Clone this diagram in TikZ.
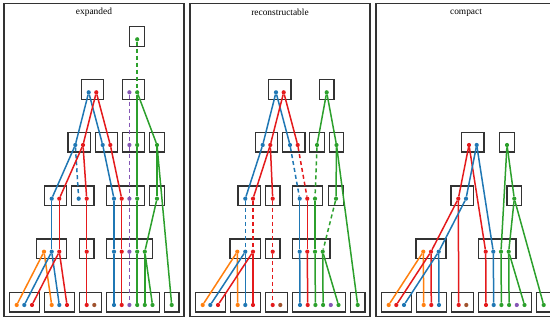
\documentclass[tikz,border=0pt]{standalone}
\usepackage{fontspec}
\setmainfont{Liberation Serif}
\definecolor{cb}{HTML}{1F77B4}
\definecolor{cr}{HTML}{E41A1C}
\definecolor{cg}{HTML}{2CA02C}
\definecolor{co}{HTML}{FF7F0E}
\definecolor{cp}{HTML}{8557B5}
\definecolor{cn}{HTML}{A0522D}
\definecolor{edge}{HTML}{333333}
\tikzset{
  dotst/.style={circle,inner sep=0pt,minimum size=4.2pt,draw=none},
  boxst/.style={rectangle,draw=edge,line width=1.1pt,inner sep=0pt,minimum height=19.7pt},
  framest/.style={rectangle,draw=edge,line width=1.2pt,inner sep=0pt,minimum width=180pt,minimum height=313.2pt},
  titlest/.style={font=\fontsize{9.4}{11}\selectfont,inner sep=0pt},
  lk/.style={line width=1.5pt},
  dsh/.style={line width=1.5pt,dash pattern=on 4pt off 3pt}
}
\newcommand\dotat[4]{\node[dotst,fill=#4] (#1) at (#2,#3) {};}
\newcommand\boxat[4]{\node[boxst,minimum width={#3-#2+14.6}] (#1) at ({(#2+#3)/2},{#4-2.85}) {};}
\begin{document}
\begin{tikzpicture}[x=1pt,y=-1pt]
\useasboundingbox (0,0) rectangle (550,320);
\clip (0,0) rectangle (550,320);
\node[framest] (f1) at (94,160.1) {};
\node[framest] (f2) at (280,160.1) {};
\node[framest] (f3) at (466,160.1) {};
\node[titlest] (t1) at (94,12.5) {expanded};
\node[titlest] (t2) at (280,12.5) {reconstructable};
\node[titlest] (t3) at (466,12.5) {compact};

% ---------------- panel 1 ----------------
\boxat{a6A}{137.2}{137.2}{39.3}
\boxat{a5A}{88.7}{96.3}{92.3}
\boxat{a5B}{129.4}{137.2}{92.3}
\boxat{a4A}{75.3}{83}{145}
\boxat{a4B}{102.7}{110.3}{145}
\boxat{a4C}{129.4}{137.2}{145}
\boxat{a4D}{157}{157}{145}
\boxat{a3A}{51.7}{59.3}{198.7}
\boxat{a3B}{78.7}{86.7}{198.7}
\boxat{a3C}{114}{137.2}{198.7}
\boxat{a3D}{157}{157}{198.7}
\boxat{a2A}{44}{59.3}{251.7}
\boxat{a2B}{86.7}{86.7}{251.7}
\boxat{a2C}{114}{144.8}{251.7}
\boxat{a1A}{16.7}{32}{305}
\boxat{a1B}{51.7}{67}{305}
\boxat{a1C}{86.7}{94.3}{305}
\boxat{a1D}{114}{152.5}{305}
\boxat{a1E}{171.7}{171.7}{305}

\dotat{a6g}{137.2}{39.3}{cg}
\dotat{a5b}{88.7}{92.3}{cb}
\dotat{a5r}{96.3}{92.3}{cr}
\dotat{a5p}{129.4}{92.3}{cp}
\dotat{a5g}{137.2}{92.3}{cg}
\dotat{a4b1}{75.3}{145}{cb}
\dotat{a4r1}{83}{145}{cr}
\dotat{a4b2}{102.7}{145}{cb}
\dotat{a4r2}{110.3}{145}{cr}
\dotat{a4p}{129.4}{145}{cp}
\dotat{a4g}{137.2}{145}{cg}
\dotat{a4g2}{157}{145}{cg}
\dotat{a3b1}{51.7}{198.7}{cb}
\dotat{a3r1}{59.3}{198.7}{cr}
\dotat{a3b2}{78.7}{198.7}{cb}
\dotat{a3r2}{86.7}{198.7}{cr}
\dotat{a3b3}{114}{198.7}{cb}
\dotat{a3r3}{121.7}{198.7}{cr}
\dotat{a3p}{129.4}{198.7}{cp}
\dotat{a3g}{137.2}{198.7}{cg}
\dotat{a3g2}{157}{198.7}{cg}
\dotat{a2o}{44}{251.7}{co}
\dotat{a2b}{51.7}{251.7}{cb}
\dotat{a2r}{59.3}{251.7}{cr}
\dotat{a2r2}{86.7}{251.7}{cr}
\dotat{a2b3}{114}{251.7}{cb}
\dotat{a2r3}{121.7}{251.7}{cr}
\dotat{a2p}{129.4}{251.7}{cp}
\dotat{a2g}{137.2}{251.7}{cg}
\dotat{a2g2}{144.8}{251.7}{cg}
\dotat{a1o1}{16.7}{305}{co}
\dotat{a1b1}{24.3}{305}{cb}
\dotat{a1r1}{32}{305}{cr}
\dotat{a1o2}{51.7}{305}{co}
\dotat{a1b2}{59.3}{305}{cb}
\dotat{a1r2}{67}{305}{cr}
\dotat{a1r3}{86.7}{305}{cr}
\dotat{a1n}{94.3}{305}{cn}
\dotat{a1b4}{114}{305}{cb}
\dotat{a1r4}{121.7}{305}{cr}
\dotat{a1p}{129.4}{305}{cp}
\dotat{a1g4}{137.2}{305}{cg}
\dotat{a1g5}{144.8}{305}{cg}
\dotat{a1g6}{152.5}{305}{cg}
\dotat{a1g7}{171.7}{305}{cg}

\draw[dsh,cg] (a6g) -- (a5g);
\draw[lk,cb] (a5b) -- (a4b1); \draw[lk,cb] (a5b) -- (a4b2);
\draw[lk,cr] (a5r) -- (a4r1); \draw[lk,cr] (a5r) -- (a4r2);
\draw[dsh,cp] (a5p) -- (a4p) -- (a3p) -- (a2p) -- (a1p);
\draw[lk,cg] (a5g) -- (a4g); \draw[lk,cg] (a5g) -- (a4g2);
\draw[lk,cb] (a4b1) -- (a3b1); \draw[dsh,cb] (a4b1) -- (a3b2);
\draw[lk,cr] (a4r1) -- (a3r1); \draw[lk,cr] (a4r1) -- (a3r2);
\draw[lk,cb] (a4b2) -- (a3b3); \draw[lk,cr] (a4r2) -- (a3r3);
\draw[lk,cg] (a4g) -- (a3g); \draw[lk,cg] (a4g2) -- (a3g2); \draw[lk,cg] (a4g2) -- (a1g7);
\draw[lk,cb] (a3b1) -- (a2b); \draw[lk,cr] (a3r1) -- (a2r); \draw[lk,cr] (a3r2) -- (a2r2);
\draw[lk,cb] (a3b3) -- (a2b3); \draw[lk,cr] (a3r3) -- (a2r3); \draw[lk,cg] (a3g) -- (a2g);
\draw[lk,cg] (a3g2) -- (a2g2);
\draw[lk,co] (a2o) -- (a1o1); \draw[lk,co] (a2o) -- (a1o2);
\draw[lk,cb] (a2b) -- (a1b1); \draw[lk,cb] (a2b) -- (a1b2);
\draw[lk,cr] (a2r) -- (a1r1); \draw[lk,cr] (a2r) -- (a1r2);
\draw[lk,cr] (a2r2) -- (a1r3);
\draw[lk,cb] (a2b3) -- (a1b4); \draw[lk,cr] (a2r3) -- (a1r4); \draw[lk,cg] (a2g) -- (a1g4);
\draw[lk,cg] (a2g2) -- (a1g5); \draw[lk,cg] (a2g2) -- (a1g6);

% ---------------- panel 2 ----------------
\begin{scope}[xshift=186pt]
\boxat{b5A}{90}{97.7}{92.3}
\boxat{b5B}{140.7}{140.7}{92.3}
\boxat{b4A}{76.7}{84.3}{145}
\boxat{b4B}{104}{111.7}{145}
\boxat{b4C}{131}{131}{145}
\boxat{b4D}{150.5}{150.5}{145}
\boxat{b3A}{59.3}{67}{198.7}
\boxat{b3B}{86.7}{86.7}{198.7}
\boxat{b3C}{113.7}{129}{198.7}
\boxat{b3D}{150}{150}{198.7}
\boxat{b2A}{51.3}{67}{251.7}
\boxat{b2B}{86.7}{86.7}{251.7}
\boxat{b2C}{113.7}{136.7}{251.7}
\boxat{b1A}{16.7}{32}{305}
\boxat{b1B}{51.7}{67}{305}
\boxat{b1C}{86.7}{94.3}{305}
\boxat{b1D}{114}{152.5}{305}
\boxat{b1E}{171.7}{171.7}{305}

\dotat{b5b}{90}{92.3}{cb}
\dotat{b5r}{97.7}{92.3}{cr}
\dotat{b5g}{140.7}{92.3}{cg}
\dotat{b4b1}{76.7}{145}{cb}
\dotat{b4r1}{84.3}{145}{cr}
\dotat{b4b2}{104}{145}{cb}
\dotat{b4r2}{111.7}{145}{cr}
\dotat{b4g1}{131}{145}{cg}
\dotat{b4g2}{150.5}{145}{cg}
\dotat{b3b1}{59.3}{198.7}{cb}
\dotat{b3r1}{67}{198.7}{cr}
\dotat{b3r2}{86.7}{198.7}{cr}
\dotat{b3b3}{113.7}{198.7}{cb}
\dotat{b3r3}{121.3}{198.7}{cr}
\dotat{b3g3}{129}{198.7}{cg}
\dotat{b3g4}{150}{198.7}{cg}
\dotat{b2o}{51.3}{251.7}{co}
\dotat{b2b}{59.3}{251.7}{cb}
\dotat{b2r}{67}{251.7}{cr}
\dotat{b2r2}{86.7}{251.7}{cr}
\dotat{b2b3}{113.7}{251.7}{cb}
\dotat{b2r3}{121.3}{251.7}{cr}
\dotat{b2g3}{129}{251.7}{cg}
\dotat{b2g4}{136.7}{251.7}{cg}
\dotat{b1o1}{16.7}{305}{co}
\dotat{b1b1}{24.3}{305}{cb}
\dotat{b1r1}{32}{305}{cr}
\dotat{b1o2}{51.7}{305}{co}
\dotat{b1b2}{59.3}{305}{cb}
\dotat{b1r2}{67}{305}{cr}
\dotat{b1r3}{86.7}{305}{cr}
\dotat{b1n}{94.3}{305}{cn}
\dotat{b1b4}{114}{305}{cb}
\dotat{b1r4}{121.7}{305}{cr}
\dotat{b1g4}{129.4}{305}{cg}
\dotat{b1g5}{137.1}{305}{cg}
\dotat{b1p}{144.8}{305}{cp}
\dotat{b1g6}{152.5}{305}{cg}
\dotat{b1g7}{171.7}{305}{cg}

\draw[lk,cb] (b5b) -- (b4b1); \draw[lk,cb] (b5b) -- (b4b2);
\draw[lk,cr] (b5r) -- (b4r1); \draw[lk,cr] (b5r) -- (b4r2);
\draw[lk,cg] (b5g) -- (b4g1); \draw[lk,cg] (b5g) -- (b4g2);
\draw[lk,cb] (b4b1) -- (b3b1);
\draw[lk,cr] (b4r1) -- (b3r1); \draw[lk,cr] (b4r1) -- (b3r2);
\draw[dsh,cb] (b4b2) -- (b3b3); \draw[dsh,cr] (b4r2) -- (b3r3); \draw[dsh,cg] (b4g1) -- (b3g3);
\draw[lk,cg] (b4g2) -- (b3g4); \draw[lk,cg] (b4g2) -- (b1g7);
\draw[dsh,cb] (b3b1) -- (b2b); \draw[dsh,cr] (b3r1) -- (b2r); \draw[dsh,cr] (b3r2) -- (b2r2);
\draw[lk,cb] (b3b3) -- (b2b3); \draw[lk,cr] (b3r3) -- (b2r3); \draw[lk,cg] (b3g3) -- (b2g3);
\draw[dsh,cg] (b3g4) -- (b2g4);
\draw[lk,co] (b2o) -- (b1o1); \draw[lk,co] (b2o) -- (b1o2);
\draw[lk,cb] (b2b) -- (b1b1); \draw[lk,cb] (b2b) -- (b1b2);
\draw[lk,cr] (b2r) -- (b1r1); \draw[lk,cr] (b2r) -- (b1r2);
\draw[dsh,cr] (b2r2) -- (b1r3);
\draw[lk,cb] (b2b3) -- (b1b4); \draw[lk,cr] (b2r3) -- (b1r4); \draw[lk,cg] (b2g3) -- (b1g4);
\draw[lk,cg] (b2g4) -- (b1g5); \draw[lk,cg] (b2g4) -- (b1g6);
\end{scope}

% ---------------- panel 3 ----------------
\begin{scope}[xshift=372pt]
\boxat{c4A}{97}{104.7}{145}
\boxat{c4B}{135}{135}{145}
\boxat{c3A}{86.3}{94}{198.7}
\boxat{c3B}{142.3}{142.3}{198.7}
\boxat{c2A}{51.3}{66.7}{251.7}
\boxat{c2B}{113.7}{136.7}{251.7}
\boxat{c1A}{16.7}{32}{305}
\boxat{c1B}{51.7}{67}{305}
\boxat{c1C}{86.7}{94.3}{305}
\boxat{c1D}{114}{152.5}{305}
\boxat{c1E}{171.7}{171.7}{305}

\dotat{c4r}{97}{145}{cr}
\dotat{c4b}{104.7}{145}{cb}
\dotat{c4g}{135}{145}{cg}
\dotat{c3r}{86.3}{198.7}{cr}
\dotat{c3b}{94}{198.7}{cb}
\dotat{c3g}{142.3}{198.7}{cg}
\dotat{c2o}{51.3}{251.7}{co}
\dotat{c2r}{59}{251.7}{cr}
\dotat{c2b}{66.7}{251.7}{cb}
\dotat{c2r2}{113.7}{251.7}{cr}
\dotat{c2b2}{121.3}{251.7}{cb}
\dotat{c2g1}{129}{251.7}{cg}
\dotat{c2g2}{136.7}{251.7}{cg}
\dotat{c1o1}{16.7}{305}{co}
\dotat{c1r1}{24.3}{305}{cr}
\dotat{c1b1}{32}{305}{cb}
\dotat{c1o2}{51.7}{305}{co}
\dotat{c1r2}{59.3}{305}{cr}
\dotat{c1b2}{67}{305}{cb}
\dotat{c1r3}{86.7}{305}{cr}
\dotat{c1n}{94.3}{305}{cn}
\dotat{c1r4}{114}{305}{cr}
\dotat{c1b4}{121.7}{305}{cb}
\dotat{c1g4}{129.4}{305}{cg}
\dotat{c1g5}{137.1}{305}{cg}
\dotat{c1p}{144.8}{305}{cp}
\dotat{c1g6}{152.5}{305}{cg}
\dotat{c1g7}{171.7}{305}{cg}

\draw[lk,cr] (c4r) -- (c3r); \draw[lk,cr] (c4r) -- (c2r2);
\draw[lk,cb] (c4b) -- (c3b); \draw[lk,cb] (c4b) -- (c2b2);
\draw[lk,cg] (c4g) -- (c3g); \draw[lk,cg] (c4g) -- (c2g1);
\draw[lk,cr] (c3r) -- (c2r); \draw[lk,cr] (c3r) -- (c1r3);
\draw[lk,cb] (c3b) -- (c2b);
\draw[lk,cg] (c3g) -- (c2g2); \draw[lk,cg] (c3g) -- (c1g7);
\draw[lk,co] (c2o) -- (c1o1); \draw[lk,co] (c2o) -- (c1o2);
\draw[lk,cr] (c2r) -- (c1r1); \draw[lk,cr] (c2r) -- (c1r2);
\draw[lk,cb] (c2b) -- (c1b1); \draw[lk,cb] (c2b) -- (c1b2);
\draw[lk,cr] (c2r2) -- (c1r4); \draw[lk,cb] (c2b2) -- (c1b4); \draw[lk,cg] (c2g1) -- (c1g4);
\draw[lk,cg] (c2g2) -- (c1g5); \draw[lk,cg] (c2g2) -- (c1g6);
\end{scope}
\end{tikzpicture}
\end{document}
